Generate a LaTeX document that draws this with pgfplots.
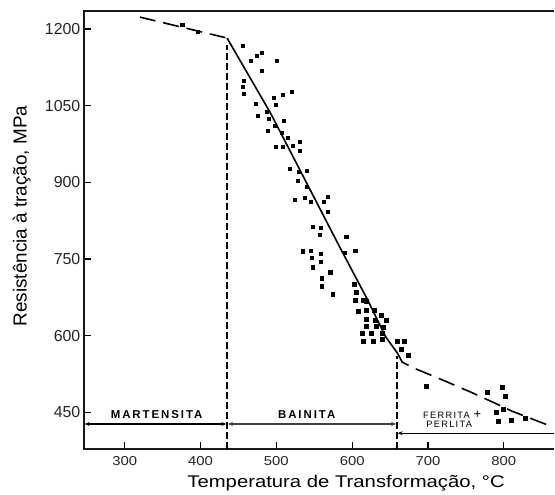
\documentclass[border=0pt]{standalone}
\usepackage{fontspec}
\setmainfont{Liberation Sans}
\usepackage{pgfplots}
\pgfplotsset{compat=1.18}
\usetikzlibrary{arrows.meta}

% measured tensile strength of the specimens
\pgfplotstableread{
T     R
455.7 1166.8
480.7 1153.1
474.1 1147.3
466.2 1137.5
500.4 1137.5
480.7 1118.0
457.0 1098.4
455.7 1086.7
457.0 1073.0
520.1 1077.0
508.3 1071.1
496.4 1065.2
472.8 1053.5
499.1 1051.6
487.2 1037.9
475.4 1030.1
489.9 1024.2
509.6 1020.3
497.8 1010.5
488.6 1000.8
514.9 987.1
507.0 996.9
530.7 979.3
499.1 969.5
508.3 969.5
521.5 971.5
530.7 961.7
517.5 926.6
539.9 922.7
529.3 920.7
528.0 903.1
539.9 891.4
524.1 866.0
537.2 869.9
545.1 862.1
562.2 862.1
567.5 871.9
567.5 842.6
547.8 813.3
558.3 811.3
557.0 797.7
592.5 793.8
534.6 764.5
545.1 766.4
558.3 760.5
589.9 762.5
604.3 766.4
546.4 752.7
558.3 744.9
547.8 733.2
571.4 723.4
559.6 711.7
559.6 696.1
574.1 680.5
603.0 700.0
605.7 684.4
604.3 668.8
614.9 668.8
618.8 666.8
608.3 647.3
618.8 649.2
629.3 649.2
638.6 639.5
618.8 631.6
630.7 629.7
645.1 629.7
618.8 617.9
632.0 617.9
641.2 616.0
613.6 604.3
625.4 604.3
639.9 604.3
614.9 588.7
628.0 588.7
639.9 592.6
659.6 588.7
668.8 588.7
664.9 573.0
674.1 561.3
697.8 500.8
778.0 489.1
797.8 498.8
801.7 481.3
789.9 450.0
799.1 455.9
792.5 432.4
809.6 434.4
828.0 438.3
375.4 1207.8
396.4 1194.1
}\pontos

\begin{document}
\begin{tikzpicture}
\begin{axis}[
  scale only axis, width=471bp, height=439bp,
  xmin=246, xmax=866, ymin=378, ymax=1235,
  axis line style={draw=none},
  xtick={300,400,...,800}, ytick={450,600,...,1200},
  xtick pos=bottom, ytick pos=left, tick align=inside,
  major tick length=7bp, tick style={line width=1.3bp, black},
  /pgf/number format/assume math mode=true,
  /pgf/number format/1000 sep={},
  xticklabel style={font=\fontsize{13}{15}\selectfont, text=black!85, xscale=1.15, yshift=-3.5bp},
  yticklabel style={font=\fontsize{16}{18}\selectfont, text=black!85},
  clip=false,
  xlabel={Temperatura de Transformação, °C},
  ylabel={Resistência à tração, MPa},
  every axis x label/.style={at={(rel axis cs:0.558,-0.0888)},anchor=base,xscale=1.2,font=\fontsize{17}{19}\selectfont},
  every axis y label/.style={at={(rel axis cs:-0.132,0.532)},rotate=90,anchor=center,font=\fontsize{19}{21}\selectfont},
]
% page extent around the plotting area
\path (rel axis cs:-0.17834,-0.10251) rectangle (rel axis cs:1,1.02506);

% frame: left, top and bottom only
\draw[line width=2.4bp, black!90] (rel axis cs:1,1) -- (rel axis cs:0,1) -- (rel axis cs:0,0) -- (rel axis cs:1,0);

% trend curve
\addplot[black, line width=1.6bp, dash pattern=on 16bp off 8bp] coordinates {(320,1223) (435,1182)};
\addplot[black, line width=1.6bp] coordinates {(435,1182) (492,1036) (584,772) (620,671) (644,598) (660,565)};
\addplot[black, line width=1.6bp, dash pattern=on 17bp off 8bp] coordinates {(660,565) (666,548) (682,536) (721,512) (757,489) (791,466) (811,452) (865,421)};

% phase boundaries
\addplot[black, line width=1.4bp, dash pattern=on 7bp off 3bp] coordinates {(435,378) (435,1168)};
\addplot[black, line width=1.4bp, dash pattern=on 7bp off 3bp] coordinates {(659,378) (659,560)};

% phase ranges
\addplot[black, line width=1.3bp, {Stealth[length=5bp,width=4bp]}-{Stealth[length=5bp,width=4bp]}] coordinates {(247,427) (434,427)};
\addplot[black!75, line width=1.7bp, {Stealth[length=5bp,width=4bp]}-{Stealth[length=5bp,width=4bp]}] coordinates {(436,427) (658,427)};
\addplot[black, line width=1.3bp, {Stealth[length=5bp,width=4bp]}-] coordinates {(660,409) (866,409)};

\node[font=\bfseries\fontsize{11.5}{13}\selectfont\addfontfeature{LetterSpace=17}] at (axis cs:342,446) {MARTENSITA};
\node[font=\bfseries\fontsize{11.5}{13}\selectfont\addfontfeature{LetterSpace=17}] at (axis cs:540,446) {BAINITA};
\node[font=\fontsize{9.3}{11}\selectfont\addfontfeature{LetterSpace=14}] at (axis cs:732,446) {FERRITA \fontsize{13}{13}\selectfont +};
\node[font=\fontsize{9.3}{11}\selectfont\addfontfeature{LetterSpace=14}] at (axis cs:728,427) {PERLITA};

% data points
\addplot[only marks, mark=square*, mark size=1.8bp, black] table[x=T, y=R] {\pontos};
\end{axis}
\end{tikzpicture}
\end{document}
